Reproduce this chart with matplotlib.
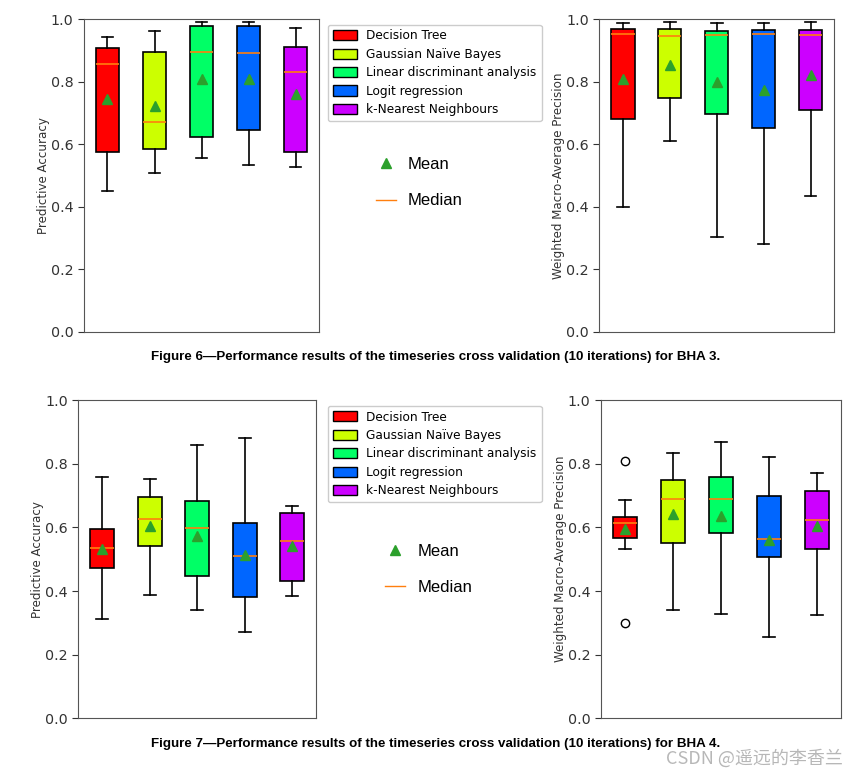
import numpy as np
import matplotlib
matplotlib.use('Agg')
from matplotlib import pyplot as plt
import matplotlib.patches as mpatches
from matplotlib.lines import Line2D

models = ['Decision Tree', 'Gaussian Naïve Bayes', 'Linear discriminant analysis',
          'Logit regression', 'k-Nearest Neighbours']
cols = ['#ff0000', '#ccff00', '#00ff66', '#0066ff', '#cc00ff']

## BHA 3 - accuracy
acc3_lo  = [0.449, 0.508, 0.555, 0.533, 0.528]
acc3_q1  = [0.574, 0.586, 0.622, 0.645, 0.574]
acc3_med = [0.857, 0.671, 0.894, 0.891, 0.832]
acc3_q3  = [0.907, 0.894, 0.978, 0.978, 0.910]
acc3_hi  = [0.942, 0.962, 0.991, 0.991, 0.973]
acc3_mean = [0.746, 0.722, 0.808, 0.808, 0.761]

## BHA 3 - precision
prec3_lo  = [0.398, 0.609, 0.304, 0.281, 0.433]
prec3_q1  = [0.681, 0.747, 0.696, 0.653, 0.711]
prec3_med = [0.954, 0.947, 0.951, 0.954, 0.951]
prec3_q3  = [0.969, 0.969, 0.962, 0.966, 0.966]
prec3_hi  = [0.988, 0.993, 0.988, 0.988, 0.993]
prec3_mean = [0.809, 0.855, 0.800, 0.773, 0.821]

## BHA 4 - accuracy
acc4_lo  = [0.311, 0.386, 0.339, 0.272, 0.385]
acc4_q1  = [0.472, 0.542, 0.448, 0.382, 0.432]
acc4_med = [0.535, 0.625, 0.597, 0.511, 0.558]
acc4_q3  = [0.594, 0.694, 0.684, 0.613, 0.644]
acc4_hi  = [0.758, 0.753, 0.860, 0.880, 0.668]
acc4_mean = [0.531, 0.604, 0.573, 0.513, 0.541]

## BHA 4 - precision
prec4_lo  = [0.531, 0.339, 0.327, 0.257, 0.325]
prec4_q1  = [0.565, 0.550, 0.581, 0.507, 0.533]
prec4_med = [0.614, 0.688, 0.688, 0.562, 0.623]
prec4_q3  = [0.632, 0.750, 0.758, 0.699, 0.714]
prec4_hi  = [0.686, 0.832, 0.867, 0.822, 0.770]
prec4_mean = [0.594, 0.641, 0.637, 0.560, 0.605]
prec4_fliers = [[0.808, 0.301], [], [], [], []]

captions = ['Figure 6\u2014Performance results of the timeseries cross validation (10 iterations) for BHA 3.',
            'Figure 7\u2014Performance results of the timeseries cross validation (10 iterations) for BHA 4.']


def make_stats(lo, q1, med, q3, hi, mean, fliers=None):
    stats = []
    for i in range(len(lo)):
        stats.append({'whislo': lo[i], 'q1': q1[i], 'med': med[i], 'q3': q3[i],
                      'whishi': hi[i], 'mean': mean[i],
                      'fliers': fliers[i] if fliers else []})
    return stats


def draw_box(ax, stats, ylabel, pad):
    bp = ax.bxp(stats, showmeans=True, patch_artist=True, widths=0.5,
                meanprops=dict(marker='^', markerfacecolor='#2ca02c',
                               markeredgecolor='#2ca02c', markersize=7),
                medianprops=dict(color='#ff7f0e', linewidth=1.2),
                whiskerprops=dict(color='black', linewidth=1.2),
                capprops=dict(color='black', linewidth=1.2),
                boxprops=dict(edgecolor='black', linewidth=1.2),
                flierprops=dict(marker='o', markerfacecolor='white',
                                markeredgecolor='black', markersize=6))
    for patch, c in zip(bp['boxes'], cols):
        patch.set_facecolor(c)
    ax.set_ylim(0, 1.0)
    ax.set_xticks([])
    ax.set_yticks([0, 0.2, 0.4, 0.6, 0.8, 1.0])
    ax.set_ylabel(ylabel, fontsize=8.6, color='#333333', labelpad=pad)
    ax.tick_params(axis='y', labelsize=10.3, colors='#333333', length=4)
    for s in ax.spines.values():
        s.set_color('#555555')


fig = plt.figure(figsize=(8.58, 7.7), dpi=100)

ax1 = fig.add_axes([0.0979, 0.5692, 0.2739, 0.4057])
ax2 = fig.add_axes([0.6985, 0.5692, 0.2735, 0.4057])
ax3 = fig.add_axes([0.0913, 0.0671, 0.2770, 0.4134])
ax4 = fig.add_axes([0.7005, 0.0671, 0.2797, 0.4134])

draw_box(ax1, make_stats(acc3_lo, acc3_q1, acc3_med, acc3_q3, acc3_hi, acc3_mean),
         'Predictive Accuracy', 0.5)
draw_box(ax2, make_stats(prec3_lo, prec3_q1, prec3_med, prec3_q3, prec3_hi, prec3_mean),
         'Weighted Macro-Average Precision', 0.5)
draw_box(ax3, make_stats(acc4_lo, acc4_q1, acc4_med, acc4_q3, acc4_hi, acc4_mean),
         'Predictive Accuracy', 0.5)
draw_box(ax4, make_stats(prec4_lo, prec4_q1, prec4_med, prec4_q3, prec4_hi, prec4_mean,
                         prec4_fliers),
         'Weighted Macro-Average Precision', 0.5)

patchList = [mpatches.Patch(facecolor=c, edgecolor='black', label=m)
             for c, m in zip(cols, models)]
mm_handles = [Line2D([], [], marker='^', color='#2ca02c', linestyle='None', markersize=7),
              Line2D([], [], color='#ff7f0e', linewidth=1)]

## legends in the gap between the panels
for ytop, mmx, mmy in [(0.976, 0.4205, 0.816), (0.481, 0.4315, 0.3135)]:
    fig.legend(handles=patchList, loc='upper left', bbox_to_anchor=(0.375, ytop),
               fontsize=8.7, handlelength=2.0, handleheight=0.9, labelspacing=0.45,
               borderpad=0.4, handletextpad=0.8, framealpha=1, edgecolor='#cccccc',
               fancybox=True)
    fig.legend(handles=mm_handles, labels=['Mean', 'Median'], loc='upper left',
               bbox_to_anchor=(mmx, mmy), frameon=False,
               prop={'family': 'Liberation Sans', 'size': 12},
               labelspacing=1.3, handlelength=1.2, handletextpad=0.72)

cap_font = ['Liberation Sans Narrow', 'Liberation Sans', 'DejaVu Sans']
fig.text(0.508, 0.536, captions[0], ha='center', va='center', fontsize=9.6,
         fontweight='bold', family=cap_font)
fig.text(0.508, 0.034, captions[1], ha='center', va='center', fontsize=9.6,
         fontweight='bold', family=cap_font)

fig.text(0.982, 0.015, 'CSDN @遥远的李香兰', ha='right', va='center', fontsize=13,
         color='#b0b0b0', alpha=0.9, family=['Noto Sans CJK SC', 'DejaVu Sans'])

fig.savefig('out.png', dpi=100)
